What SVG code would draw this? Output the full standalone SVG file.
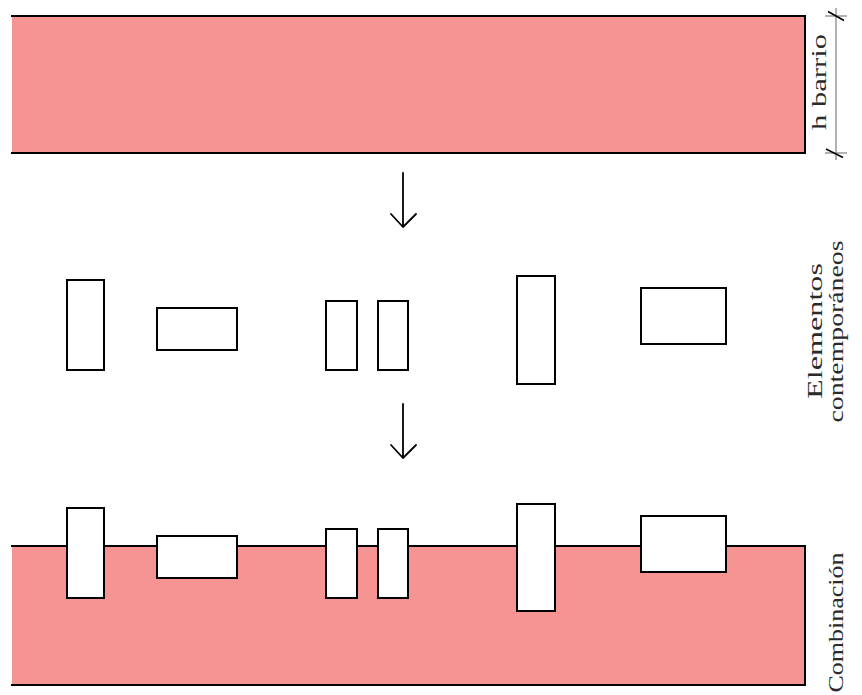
<svg xmlns="http://www.w3.org/2000/svg" width="862" height="695" viewBox="0 0 862 695">
<style>
.band{fill:#F69494;stroke:none}
.edge{fill:none;stroke:#000;stroke-width:2}
.el{fill:#fff;stroke:#000;stroke-width:2}
.arr{fill:none;stroke:#000;stroke-width:1.8;stroke-linecap:round;stroke-linejoin:round}
.dim{fill:none;stroke:#888;stroke-width:1.3}
.tick{fill:none;stroke:#000;stroke-width:1.5}
.lbl{font-family:"Liberation Serif","DejaVu Serif",serif;font-size:22px;fill:#2a2a2a;text-anchor:middle}
</style>
<rect width="862" height="695" fill="#fff"/>
<g id="barrio">
<rect class="band" x="12" y="16" width="793" height="137"/>
<path class="edge" d="M11 16 H805 V153 H11"/>
</g>
<g id="dimension">
<line class="dim" x1="836" y1="8" x2="836" y2="160"/>
<line class="dim" x1="825" y1="16" x2="847" y2="16"/>
<line class="dim" x1="825" y1="153" x2="847" y2="153"/>
<line class="tick" x1="828" y1="11.5" x2="844" y2="20.5"/>
<line class="tick" x1="826" y1="149" x2="843" y2="157.5"/>
<text class="lbl" transform="translate(826,82) rotate(-90)" textLength="96" lengthAdjust="spacingAndGlyphs">h barrio</text>
</g>
<g id="connectors">
<path class="arr" d="M403 173 V227 M391 214 L403 227 L416 214"/>
<path class="arr" d="M403 404 V458 M391 445 L403 458 L416 445"/>
</g>
<g id="elementos">
<rect class="el" x="67" y="280" width="37" height="90"/>
<rect class="el" x="157" y="308" width="80" height="42"/>
<rect class="el" x="326" y="301" width="31" height="69"/>
<rect class="el" x="378" y="301" width="30" height="69"/>
<rect class="el" x="517" y="276" width="38" height="108"/>
<rect class="el" x="641" y="288" width="85" height="56"/>
<text class="lbl" transform="translate(822,331) rotate(-90)" textLength="136" lengthAdjust="spacingAndGlyphs">Elementos</text>
<text class="lbl" transform="translate(843,331.5) rotate(-90)" textLength="182" lengthAdjust="spacingAndGlyphs">contemporáneos</text>
</g>
<g id="combinacion">
<rect class="band" x="12" y="546" width="793" height="139"/>
<path class="edge" d="M11 546 H805 V685 H11"/>
<rect class="el" x="67" y="508" width="37" height="90"/>
<rect class="el" x="157" y="536" width="80" height="42"/>
<rect class="el" x="326" y="529" width="31" height="69"/>
<rect class="el" x="378" y="529" width="30" height="69"/>
<rect class="el" x="517" y="504" width="38" height="107"/>
<rect class="el" x="641" y="516" width="85" height="56"/>
<text class="lbl" transform="translate(843,622.5) rotate(-90)" textLength="140" lengthAdjust="spacingAndGlyphs">Combinación</text>
</g>
</svg>
